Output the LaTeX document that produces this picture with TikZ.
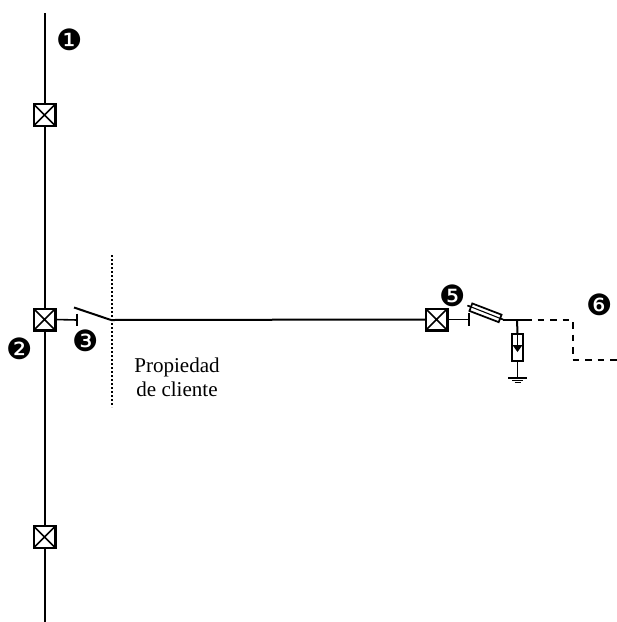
\documentclass[tikz,border=0pt]{standalone}
\usepackage{fontspec}
\setmainfont{Liberation Serif}
\newfontfamily\dingfont{DejaVu Sans}
\begin{document}
\begin{tikzpicture}[x=0.75pt,y=-0.75pt,
  wire/.style={line width=1.5pt,black},
  thin wire/.style={line width=1.2pt,black},
  breaker/.style={draw=black,line width=1.8pt,fill=white,minimum size=16.2pt,inner sep=0pt,outer sep=0pt,
    path picture={\draw[line width=1.1pt] (path picture bounding box.north west)--(path picture bounding box.south east)
      (path picture bounding box.north east)--(path picture bounding box.south west);}},
  num/.style={font=\dingfont\fontsize{22pt}{22pt}\selectfont,inner sep=0pt,text=black},
  lbl/.style={font=\fontsize{15.8pt}{18pt}\selectfont,align=center,inner sep=0pt}]
\useasboundingbox (0,0) rectangle (617,622);
% main vertical line
\coordinate (top) at (44.5,13);
\coordinate (bot) at (44.5,622);
\draw[wire] (top)--(bot);
\node[breaker] (b1) at (44.5,115) {};
\node[breaker] (b2) at (44.5,319.5) {};
\node[breaker] (b3) at (44.5,537) {};
% earthing stub and switch
\coordinate (t1) at (77,320);
\draw[thin wire] (b2.east)--(t1);
\draw[thin wire] (77,313.5)--(77,326);
\coordinate (swo) at (74,307.5);
\coordinate (swc) at (111,320);
\draw[wire] (swo)--(swc);
% boundary
\coordinate (d1) at (112,255);
\coordinate (d2) at (112,407);
\draw[line width=1.2pt,dash pattern=on 1.2pt off 1.8pt] (d1)--(d2);
% cable
\node[breaker] (b4) at (436.5,319.5) {};
\draw[wire] (swc)--(b4.west);
\coordinate (t2) at (469,319.5);
\draw[thin wire] (b4.east)--(t2);
\draw[thin wire] (469,313)--(469,326);
% fuse
\coordinate (f1) at (467.5,305.5);
\coordinate (f2) at (503,319.5);
\draw[thin wire] (f1)--(f2);
\node[draw=black,line width=1.3pt,fill=white,minimum width=23.5pt,minimum height=6pt,inner sep=0pt,rotate=-21] (fuse) at (485.5,312.8) {};
\draw[line width=0.8pt] (f1)--(f2);
% output
\coordinate (j) at (517,319.5);
\coordinate (s) at (525,319.5);
\coordinate (c1) at (572.5,319.5);
\coordinate (c2) at (572.5,359.5);
\coordinate (e) at (617,359.5);
\draw[wire] (f2)--(s);
\draw[wire,dash pattern=on 5.2pt off 4.18pt] (s)--(c1)--(c2)--(e);
% arrester
\node[draw=black,line width=1.3pt,fill=white,minimum width=8.2pt,minimum height=20pt,inner sep=0pt] (r) at (517.5,347.5) {};
\coordinate (g) at (517.5,378);
\draw[wire] (j)--(r.north);
\draw[thin wire] (r.south)--(g);
\fill (512.5,345)--(522.5,345)--(517.5,352)--cycle;
\draw[thin wire] (517.5,335)--(517.5,346);
\draw[line width=1.4pt] (508,378)--(527,378);
\draw[line width=1.4pt] (512,380.5)--(523,380.5);
\draw[line width=1.4pt] (514.5,382.5)--(520.5,382.5);
% numbers
\node[num] (n1) at (69.5,39.5) {❶};
\node[num] (n2) at (20,349) {❷};
\node[num] (n3) at (86,340.5) {❸};
\node[num] (n5) at (453,296) {❺};
\node[num] (n6) at (599.5,305) {❻};
\node[lbl] (txt) at (177,377) {Propiedad\\de cliente};
\end{tikzpicture}
\end{document}
